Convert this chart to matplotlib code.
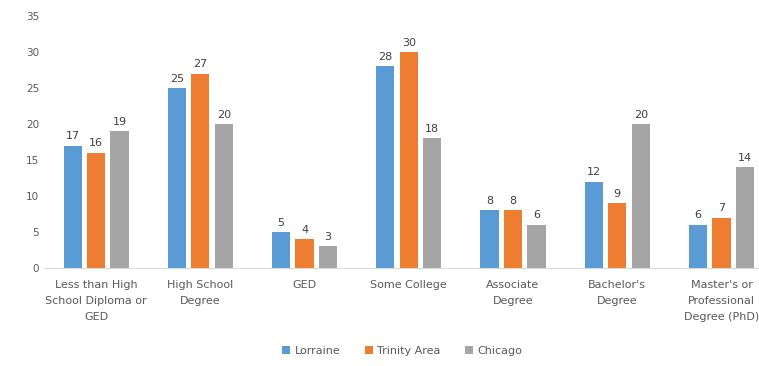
import matplotlib.pyplot as plt
import numpy as np

# Education levels and the share (%) for each area
categories = ["Less than High\nSchool Diploma or\nGED", "High School\nDegree", "GED",
              "Some College", "Associate\nDegree", "Bachelor's\nDegree",
              "Master's or\nProfessional\nDegree (PhD)"]
series_names = ["Lorraine", "Trinity Area", "Chicago"]
lorraine = [17, 25, 5, 28, 8, 12, 6]
trinity = [16, 27, 4, 30, 8, 9, 7]
chicago = [19, 20, 3, 18, 6, 20, 14]
yticks = [0, 5, 10, 15, 20, 25, 30, 35]

colors = ["#5B9BD5", "#ED7D31", "#A5A5A5"]
text_color = "#595959"

fig = plt.figure(figsize=(7.59, 3.66), dpi=100)
ax = fig.add_axes([0.058, 0.268, 0.942, 0.688])

x = np.arange(len(categories))
width = 0.175
offsets = [-0.225, 0, 0.225]
for vals, off, c, name in zip([lorraine, trinity, chicago], offsets, colors, series_names):
    bars = ax.bar(x + off, vals, width, color=c, label=name)
    for b, v in zip(bars, vals):
        ax.text(b.get_x() + b.get_width() / 2, v + 0.6, str(v), ha="center", va="bottom",
                fontsize=8, color="#404040")

ax.set_ylim(0, 35)
ax.set_xlim(-0.5, len(categories) - 0.64)
ax.set_yticks(yticks)
ax.set_xticks(x)
ax.set_xticklabels(categories, fontsize=8, color=text_color, linespacing=1.7)
ax.tick_params(axis="y", labelsize=7.5, labelcolor=text_color, length=0)
ax.tick_params(axis="x", length=0, pad=9)
for s in ax.spines.values():
    s.set_visible(False)
ax.spines["bottom"].set_visible(True)
ax.spines["bottom"].set_color("#D9D9D9")

fig.legend(loc="lower center", ncol=3, frameon=False, fontsize=8,
           bbox_to_anchor=(0.53, 0.0), handlelength=0.7, handleheight=0.7,
           columnspacing=2.2, handletextpad=0.4, labelcolor=text_color)

fig.savefig("out.png", dpi=100)
